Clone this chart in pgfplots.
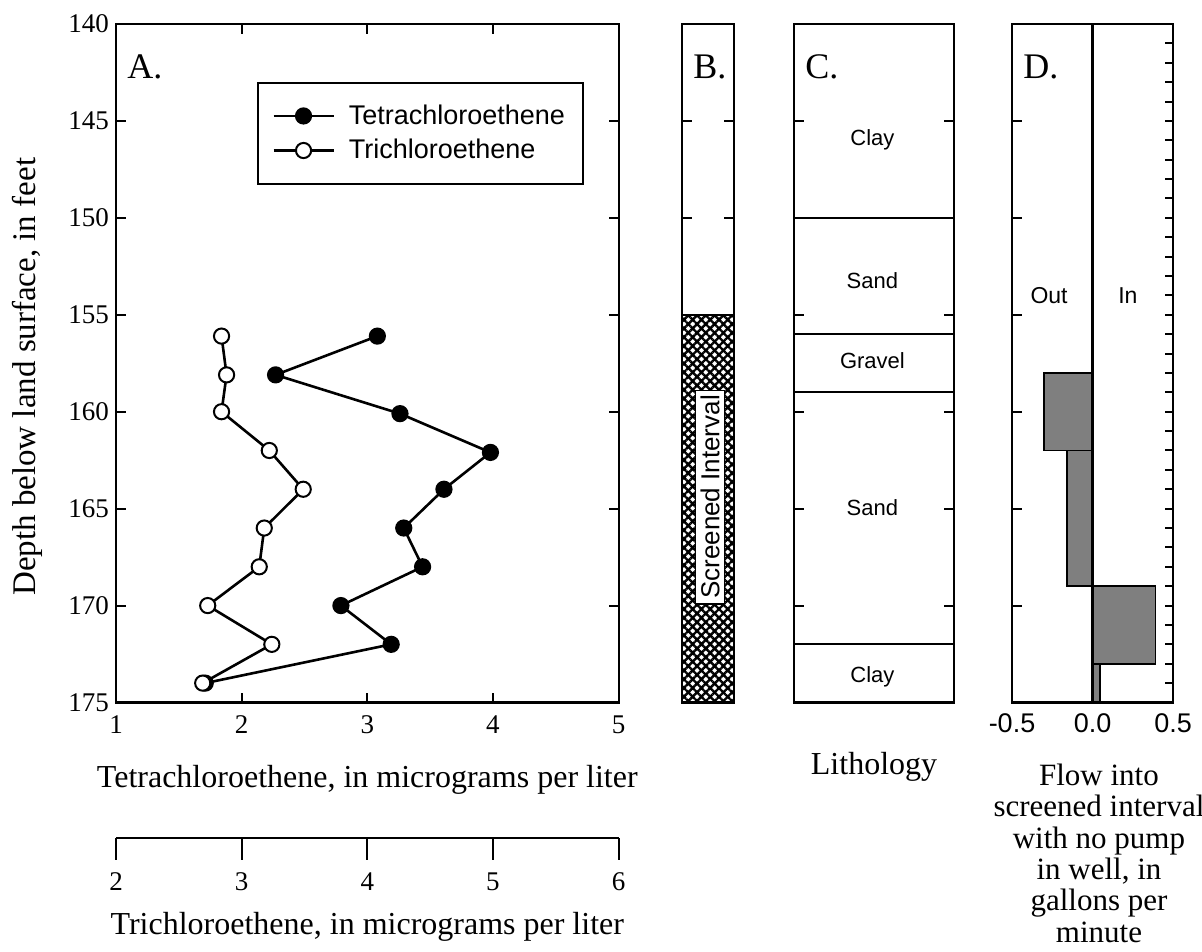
\documentclass[border=0pt]{standalone}
\usepackage{fontspec}
\setmainfont{Liberation Serif}
\setsansfont{Liberation Sans}
\usepackage{pgfplots}
\pgfplotsset{compat=1.18}
\usetikzlibrary{patterns.meta}
\definecolor{bargray}{HTML}{7F7F7F}

\pgfplotstableread{
depth pce
156.1 3.08
158.1 2.27
160.1 3.26
162.1 3.98
164.0 3.61
166.0 3.29
168.0 3.44
170.0 2.79
172.0 3.19
174.0 1.71
}\pcetable

% TCE plotted on the shared scale (TCE value minus 1)
\pgfplotstableread{
depth tce
156.1 1.84
158.1 1.88
160.0 1.84
162.0 2.22
164.0 2.49
166.0 2.18
168.0 2.14
170.0 1.73
172.0 2.24
174.0 1.69
}\tcetable

\tikzset{
  letter/.style={anchor=base west, inner sep=0pt, xshift=5.5pt, font=\fontsize{18}{20}\selectfont},
  litho/.style={font=\sffamily\fontsize{11}{13}\selectfont},
}

\begin{document}
\begin{tikzpicture}
\path[use as bounding box] (0,0) rectangle (601pt,475.5pt);
\pgfplotsset{
  panel/.style={scale only axis, anchor=south west, height=339.25pt,
    y dir=reverse, ymin=140, ymax=175,
    axis line style={line width=1.1pt}, tick align=inside,
    tick style={line width=1pt, black}, major tick length=5pt,
    minor tick length=4pt, clip=false,
    /pgf/number format/assume math mode=true,
    ticklabel style={font=\fontsize{13.5}{15}\selectfont},
    label style={font=\fontsize{16}{19}\selectfont}},
}

% ---------------- Panel A ----------------
\begin{axis}[panel, at={(58pt,124.25pt)}, width=251.3pt,
  xmin=1, xmax=5, xtick={1,2,3,4,5}, ytick={140,145,...,175},
  xticklabel style={yshift=-3pt},
  xlabel={Tetrachloroethene, in micrograms per liter},
  ylabel={Depth below land surface, in feet},
  xlabel style={at={(axis description cs:0.5,-0.114)}, anchor=center},
  ylabel style={at={(axis description cs:-0.177,0.48)}, anchor=center, font=\fontsize{16.5}{19}\selectfont},
  legend style={at={(axis description cs:0.281,0.915)}, anchor=north west,
    draw=black, line width=1pt, inner xsep=7pt, inner ysep=9pt,
    font=\sffamily\fontsize{13.5}{15}\selectfont, row sep=2pt,
    nodes={inner sep=2pt},
    /tikz/every odd column/.append style={column sep=5pt}},
  legend cell align=left,
  legend image code/.code={\draw[mark repeat=2,mark phase=2,#1] plot coordinates {(0pt,0pt) (15pt,0pt) (30pt,0pt)};},
]
\addplot[black, line width=1.3pt, mark=*, mark size=3.8pt, mark options={fill=black, line width=1pt}] table[x=pce, y=depth] {\pcetable};
\addlegendentry{Tetrachloroethene}
\addplot[black, line width=1.3pt, mark=*, mark size=3.8pt, mark options={fill=white, line width=1pt}] table[x=tce, y=depth] {\tcetable};
\addlegendentry{Trichloroethene}
\node[letter] at (axis cs:1,142.8) {A.};
\end{axis}

% ---------------- Trichloroethene scale ----------------
\begin{axis}[scale only axis, anchor=south west, at={(58pt,56.5pt)}, width=251.3pt, height=10pt,
  xmin=2, xmax=6, ymin=0, ymax=1, axis x line=bottom, axis y line=none,
  x axis line style={-, line width=1.1pt}, tick align=outside,
  tick style={line width=1pt, black}, major tick length=11pt,
  xtick={2,3,4,5,6}, ytick=\empty,
  /pgf/number format/assume math mode=true,
  ticklabel style={font=\fontsize{13.5}{15}\selectfont},
  xticklabel style={yshift=-3pt},
  xlabel={Trichloroethene, in micrograms per liter},
  xlabel style={at={(axis description cs:0.5,-4.45)}, anchor=center, font=\fontsize{16}{19}\selectfont},
]
\addplot[draw=none] coordinates {(2,0) (6,1)};
\end{axis}

% ---------------- Panel B ----------------
\begin{axis}[panel, at={(341pt,124.25pt)}, width=26pt,
  xmin=0, xmax=1, xtick=\empty, ytick={145,150}, yticklabels={},
]
\addplot[draw=black, line width=1pt, pattern={Hatch[angle=45,distance=3.1pt,line width=1.2pt]}, pattern color=black]
  coordinates {(0,155) (1,155) (1,175) (0,175)} -- cycle;
\node[rotate=90, fill=white, draw=black, line width=0.6pt, inner sep=2.5pt, font=\sffamily\fontsize{13}{15}\selectfont] at (axis cs:0.54,164.4) {Screened Interval};
\node[letter] at (axis cs:0,142.8) {B.};
\end{axis}

% ---------------- Panel C ----------------
\begin{axis}[panel, at={(397pt,124.25pt)}, width=80pt,
  xmin=0, xmax=1, xtick=\empty, ytick={145,150,...,170}, yticklabels={},
  xlabel={Lithology},
  xlabel style={at={(axis description cs:0.5,-0.095)}, anchor=center},
]
\addplot[black, line width=1.1pt] coordinates {(0,150) (1,150)};
\addplot[black, line width=1.1pt] coordinates {(0,156) (1,156)};
\addplot[black, line width=1.1pt] coordinates {(0,159) (1,159)};
\addplot[black, line width=1.1pt] coordinates {(0,172) (1,172)};
\node[litho] at (axis cs:0.49,146.0) {Clay};
\node[litho] at (axis cs:0.49,153.26) {Sand};
\node[litho] at (axis cs:0.49,157.37) {Gravel};
\node[litho] at (axis cs:0.49,164.95) {Sand};
\node[litho] at (axis cs:0.49,173.67) {Clay};
\node[letter] at (axis cs:0,142.8) {C.};
\end{axis}

% ---------------- Panel D ----------------
\begin{axis}[panel, at={(506pt,124.25pt)}, width=80.5pt,
  xmin=-0.5, xmax=0.5, xtick={-0.5,0,0.5}, xticklabels={-0.5,0.0,0.5},
  xtick style={draw=none},
  xticklabel style={font=\sffamily\fontsize{13.5}{15}\selectfont, yshift=-2pt},
  ytick={145,150,...,170}, yticklabels={}, ytick pos=left,
  xlabel={Flow into\\screened interval\\with no pump\\in well, in\\gallons per\\minute},
  xlabel style={at={(axis description cs:0.54,-0.222)}, anchor=center, align=center, inner sep=0pt, font=\fontsize{15.5}{15.7}\selectfont},
]
\addplot[fill=bargray, draw=black, line width=0.8pt] coordinates {(0,158) (-0.30,158) (-0.30,162) (0,162)} -- cycle;
\addplot[fill=bargray, draw=black, line width=0.8pt] coordinates {(0,162) (-0.16,162) (-0.16,169) (0,169)} -- cycle;
\addplot[fill=bargray, draw=black, line width=0.8pt] coordinates {(0,169) (0.39,169) (0.39,173) (0,173)} -- cycle;
\addplot[fill=bargray, draw=black, line width=0.8pt] coordinates {(0,173) (0.045,173) (0.045,175) (0,175)} -- cycle;
\addplot[black, line width=1.1pt] coordinates {(0,140) (0,175)};
\node[litho, font=\sffamily\fontsize{11.5}{13}\selectfont] at (axis cs:-0.27,154) {Out};
\node[litho, font=\sffamily\fontsize{11.5}{13}\selectfont] at (axis cs:0.22,154) {In};
\node[letter] at (axis cs:-0.5,142.8) {D.};
\end{axis}
% right-side one-foot ticks of panel D
\begin{axis}[panel, at={(506pt,124.25pt)}, width=80.5pt,
  xmin=-0.5, xmax=0.5, xtick=\empty,
  ytick={141,...,174}, yticklabels={}, ytick pos=right, major tick length=4pt,
]
\addplot[draw=none] coordinates {(-0.5,140) (0.5,175)};
\end{axis}
\end{tikzpicture}
\end{document}
